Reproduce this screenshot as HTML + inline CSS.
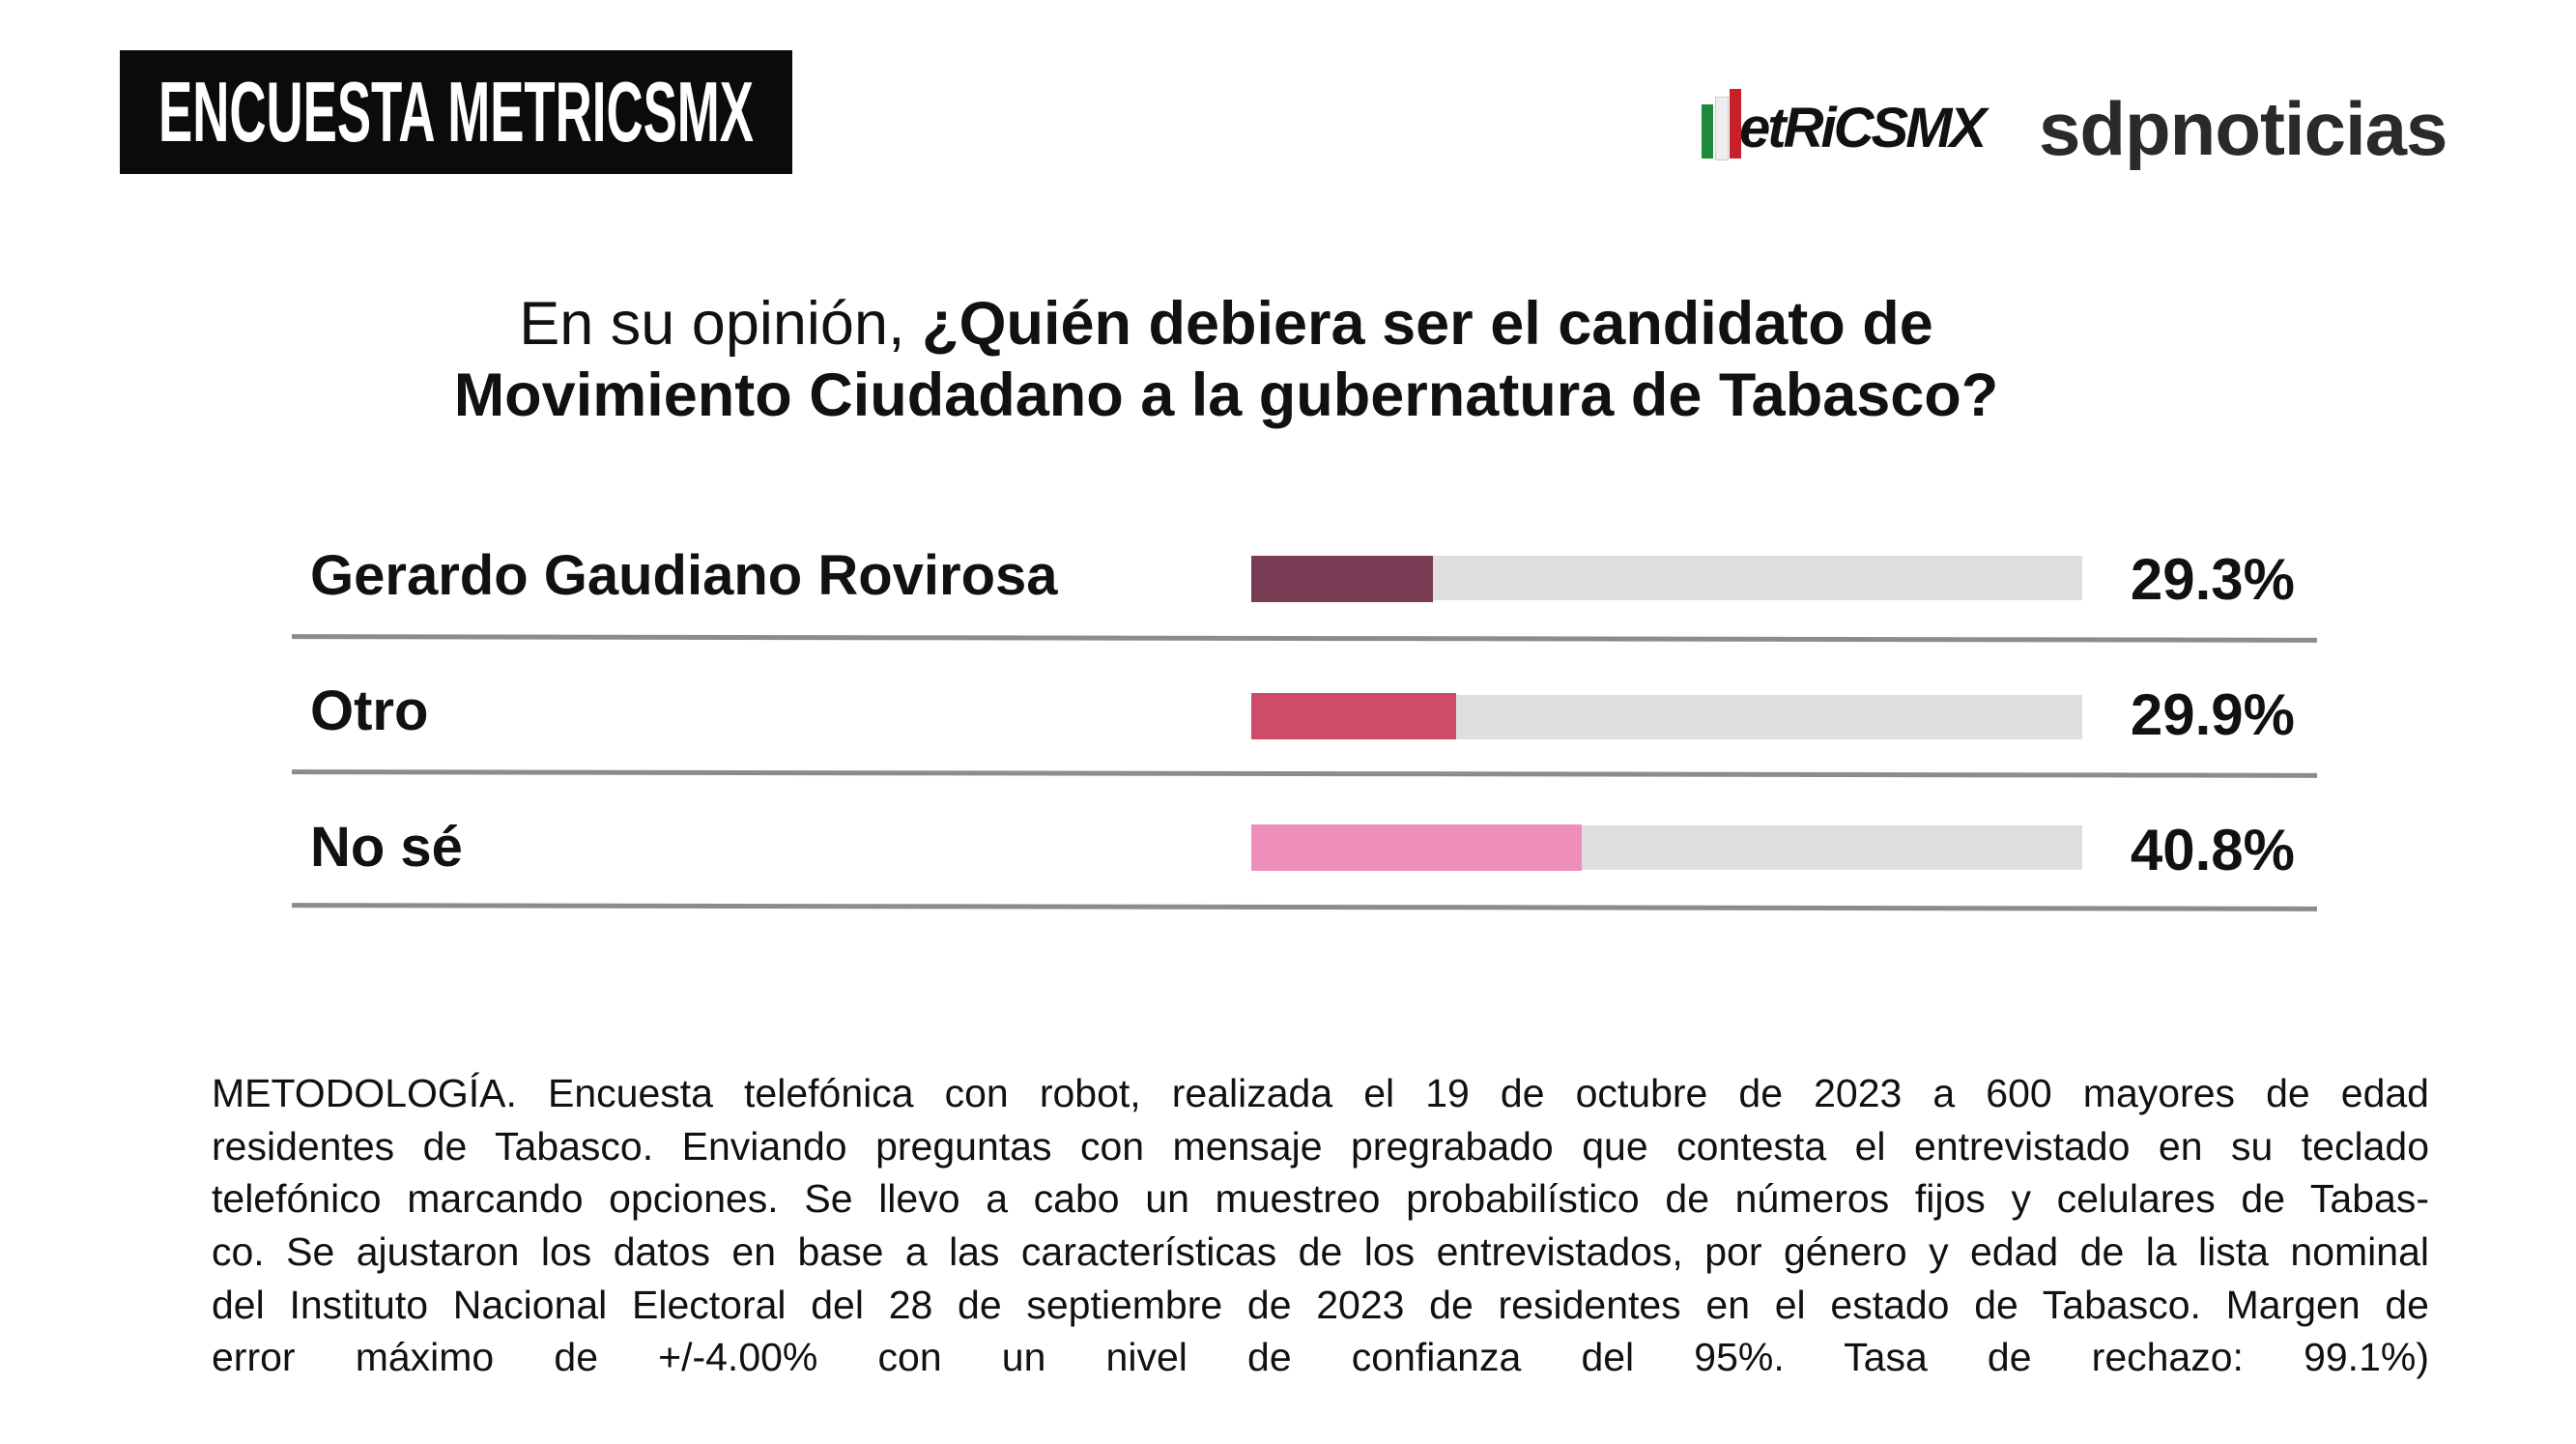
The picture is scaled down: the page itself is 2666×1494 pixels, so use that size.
<!DOCTYPE html>
<html><head><meta charset="utf-8"><style>
body{margin:0;width:2666px;height:1494px;background:#fff;position:relative;overflow:hidden;font-family:"Liberation Sans",Arial,sans-serif;color:#111}
.a{position:absolute}
.box{left:124px;top:52px;width:696px;height:128px;background:#0b0b0b;overflow:hidden}
.box span{position:absolute;left:50%;top:0;color:#fff;font-weight:bold;font-size:88px;line-height:128px;white-space:nowrap;transform:translateX(-50%) scaleX(0.6)}
.title{left:0;width:2538px;text-align:center;font-size:63px;line-height:74px;top:298px}
.lab{left:321px;font-size:58px;font-weight:bold;line-height:60px}
.pct{left:2150px;width:225px;text-align:right;font-size:60px;font-weight:bold;line-height:60px}
.bg{left:1295px;width:860px;height:46px;background:#dfdfdf}
.ln{left:302px;width:2096px;height:5px;background:#8c8c8c}
.met{left:219px;width:2295px;top:1104px;font-size:41px;line-height:54.7px}
.met div{text-align:justify;text-align-last:justify;white-space:nowrap;height:54.7px}
</style></head><body>
<div class="a box"><span>ENCUESTA METRICSMX</span></div>
<div class="a" style="left:1761px;top:108px;width:12px;height:56px;background:#1e8a3a"></div>
<div class="a" style="left:1775px;top:100px;width:12px;height:64px;background:#eee;border:1px solid #ccc"></div>
<div class="a" style="left:1790px;top:92px;width:12px;height:72px;background:#c8202a"></div>
<div class="a" style="left:1800px;top:100px;font-size:58px;font-weight:bold;font-style:italic;line-height:66px;letter-spacing:-3px">etRiCSMX</div>
<div class="a" style="left:2110px;top:88px;font-size:78px;font-weight:bold;color:#2a2a2a;line-height:90px;letter-spacing:-1px">sdpnoticias</div>
<div class="a title"><span style="font-weight:normal">En su opinión, </span><b>¿Quién debiera ser el candidato de</b><br><b>Movimiento Ciudadano a la gubernatura de Tabasco?</b></div>

<div class="a lab" style="top:566px">Gerardo Gaudiano Rovirosa</div>
<div class="a bg" style="top:575px"></div>
<div class="a" style="left:1295px;top:575px;width:188px;height:48px;background:#7a3c55"></div>
<div class="a pct" style="top:570px">29.3%</div>
<div class="a ln" style="top:658px;transform:rotate(0.1deg)"></div>

<div class="a lab" style="top:706px">Otro</div>
<div class="a bg" style="top:719px"></div>
<div class="a" style="left:1295px;top:717px;width:212px;height:48px;background:#cf4b6a"></div>
<div class="a pct" style="top:710px">29.9%</div>
<div class="a ln" style="top:798px;transform:rotate(0.1deg)"></div>

<div class="a lab" style="top:847px">No sé</div>
<div class="a bg" style="top:854px"></div>
<div class="a" style="left:1295px;top:853px;width:342px;height:48px;background:#ee8fbb"></div>
<div class="a pct" style="top:850px">40.8%</div>
<div class="a ln" style="top:936px;transform:rotate(0.1deg)"></div>

<div class="a met">
<div>METODOLOGÍA. Encuesta telefónica con robot, realizada el 19 de octubre de 2023 a 600 mayores de edad</div>
<div>residentes de Tabasco. Enviando preguntas con mensaje pregrabado que contesta el entrevistado en su teclado</div>
<div>telefónico marcando opciones. Se llevo a cabo un muestreo probabilístico de números fijos y celulares de Tabas-</div>
<div>co. Se ajustaron los datos en base a las características de los entrevistados, por género y edad de la lista nominal</div>
<div>del Instituto Nacional Electoral del 28 de septiembre de 2023 de residentes en el estado de Tabasco. Margen de</div>
<div>error máximo de +/-4.00% con un nivel de confianza del 95%. Tasa de rechazo: 99.1%)</div>
</div>
</body></html>
